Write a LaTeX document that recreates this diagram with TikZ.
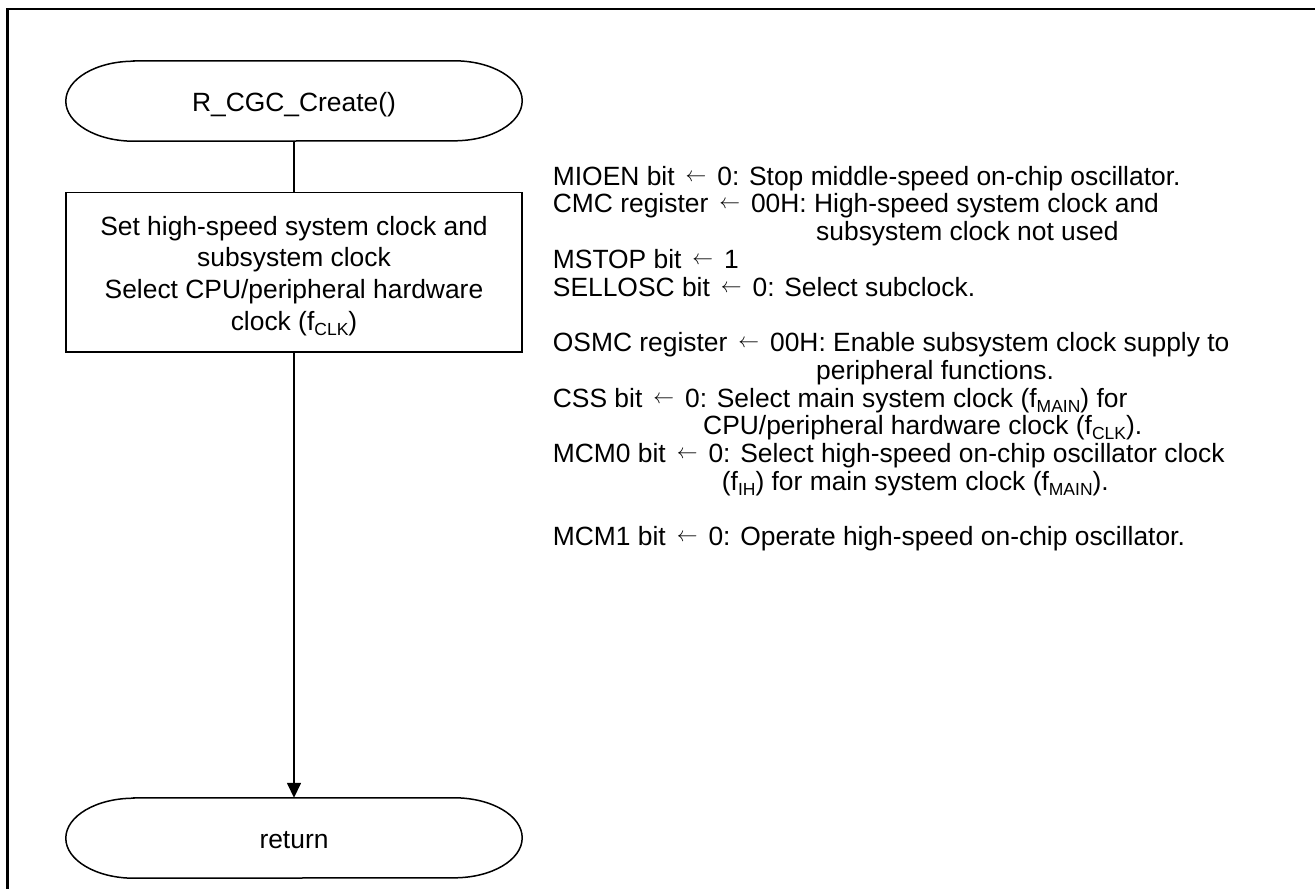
\documentclass[tikz,border=0pt]{standalone}
\usepackage{fontspec}
\setmainfont{Liberation Sans}
\usetikzlibrary{arrows.meta}
\newcommand\sbs[1]{\raisebox{-5pt}{\fontsize{17.5}{17.5}\selectfont #1}}
\newcommand\larr{\makebox[28pt][c]{\raisebox{3.8pt}{\fontsize{21}{21}\selectfont$\leftarrow$}}}
\tikzset{
  every node/.style={font=\fontsize{26.4}{27.8}\selectfont},
  term/.style={draw=none, minimum width=456pt, minimum height=80pt, inner sep=0pt, text height=20.2pt, text depth=0pt},
  procbox/.style={draw, line width=1.6pt, minimum width=456pt, minimum height=159.4pt, inner sep=0pt, align=center, font=\fontsize{26.4}{31.7}\selectfont},
  termline/.style={line width=1.5pt},
  conn/.style={line width=1.5pt},
  note/.style={anchor=base west, inner sep=0pt},
}
\begin{document}
\begin{tikzpicture}[x=1pt,y=1pt]
\useasboundingbox (0,0) rectangle (1315,-889);
\fill[white] (0,0) rectangle (1315,-889);
% outer frame (partial)
\draw[line width=2.2pt] (7.5,-889) -- (7.5,-9) -- (1315,-9);

% start terminal
\node[term] (start) at (294,-101) {R\_CGC\_Create()};
\draw[termline] ([xshift=68pt]start.north west) -- ([xshift=-68pt]start.north east)
  arc[start angle=90, end angle=-90, x radius=68pt, y radius=40pt]
  -- ([xshift=68pt]start.south west)
  arc[start angle=270, end angle=90, x radius=68pt, y radius=40pt] -- cycle;

% process box
\node[procbox] (proc) at (294,-272) {\rule{0pt}{26.7pt}Set high-speed system clock and\\subsystem clock\\Select CPU/peripheral hardware\\clock (f\sbs{CLK})};

% return terminal
\node[term] (ret) at (294,-838) {return};
\draw[termline] ([xshift=68pt]ret.north west) -- ([xshift=-68pt]ret.north east)
  arc[start angle=90, end angle=-90, x radius=68pt, y radius=40pt]
  -- ([xshift=68pt]ret.south west)
  arc[start angle=270, end angle=90, x radius=68pt, y radius=40pt] -- cycle;

% connectors
\draw[conn] (start.south) -- (proc.north);
\draw[conn, -{Triangle[length=15pt,width=14pt]}] (proc.south) -- (ret.north);

% notes
\node[note] (t1) at (552.7,-185) {MIOEN bit \larr{} 0: Stop middle-speed on-chip oscillator.};
\node[note] (t2) at (552.7,-212.5) {CMC register \larr{} 00H: High-speed system clock and};
\node[note] (t3) at (816,-240) {subsystem clock not used};
\node[note] (t4) at (552.7,-268) {MSTOP bit \larr{} 1};
\node[note] (t5) at (552.7,-296) {SELLOSC bit \larr{} 0: Select subclock.};
\node[note] (t6) at (552.7,-351.5) {OSMC register \larr{} 00H: Enable subsystem clock supply to};
\node[note] (t7) at (816,-379.3) {peripheral functions.};
\node[note] (t8) at (552.7,-407) {CSS bit \larr{} 0: Select main system clock (f\sbs{MAIN}) for};
\node[note] (t9) at (703,-434.5) {CPU/peripheral hardware clock (f\sbs{CLK}).};
\node[note] (t10) at (552.7,-462) {MCM0 bit \larr{} 0: Select high-speed on-chip oscillator clock};
\node[note] (t11) at (721.7,-490) {(f\sbs{IH}) for main system clock (f\sbs{MAIN}).};
\node[note] (t12) at (552.7,-545.5) {MCM1 bit \larr{} 0: Operate high-speed on-chip oscillator.};
\end{tikzpicture}
\end{document}
